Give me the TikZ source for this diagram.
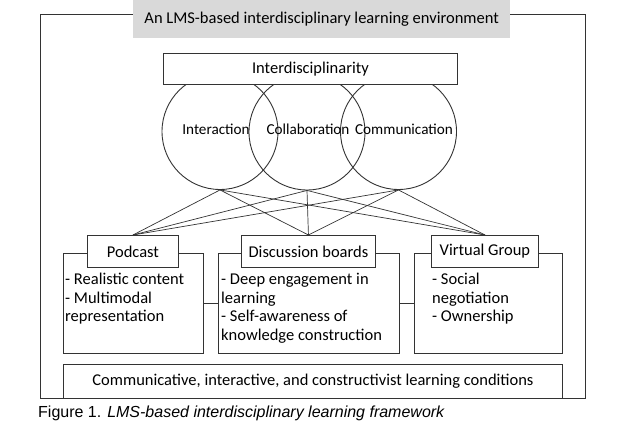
\documentclass[tikz,border=0pt]{standalone}
\usepackage{fontspec}
\setmainfont{Carlito}
\newfontfamily\capfont{Liberation Sans}
\begin{document}
\begin{tikzpicture}[x=1pt,y=-1pt,
  ln/.style={draw=black!80,line width=0.9pt},
  txt/.style={font=\fontsize{16.5}{18.6}\selectfont,inner sep=0pt},
  ctxt/.style={font=\fontsize{15.2}{18}\selectfont,inner sep=0pt},
  rect/.style={ln,fill=white},
  circ/.style={ln,circle,minimum size=116pt,inner sep=0pt},
  body/.style={txt,align=left,anchor=north west}]
\useasboundingbox (0,0) rectangle (617,430);
\fill[white] (0,0) rectangle (617,430);
% outer frame
\draw[ln] (40,14) rectangle (585,398);
\node[fill=black!15,minimum width=377pt,minimum height=38pt,inner sep=0pt,anchor=north west] (title) at (133,0) {};
\node[txt] at (title.center) {An LMS-based interdisciplinary learning environment};
% circles
\node[circ] (c1) at (220,131.5) {};
\node[circ] (c2) at (307,132) {};
\node[circ] (c3) at (398.5,131.5) {};
\node[ctxt] at (216,129) {Interaction};
\node[ctxt] at (308,129) {Collaboration};
\node[ctxt] at (404,129) {Communication};
% top box
\node[rect,minimum width=294pt,minimum height=31pt,anchor=north west] (inter) at (163,53) {};
\node[txt] at (inter.center) {Interdisciplinarity};
% content boxes
\node[ln,minimum width=140pt,minimum height=100pt,anchor=north west] (pb) at (63,253) {};
\node[ln,minimum width=181pt,minimum height=100pt,anchor=north west] (db) at (218,253) {};
\node[ln,minimum width=148pt,minimum height=100pt,anchor=north west] (vb) at (414,253) {};
\draw[ln] (pb.east) -- (db.west);
\draw[ln] (db.east) -- (vb.west);
% header boxes
\node[rect,minimum width=91pt,minimum height=32pt,anchor=north west] (ph) at (87,235) {};
\node[rect,minimum width=134pt,minimum height=32pt,anchor=north west] (dh) at (241,235) {};
\node[rect,minimum width=107pt,minimum height=32pt,anchor=north west] (vh) at (431,235) {};
\node[txt] at (ph.center) {Podcast};
\node[txt] at (dh.center) {Discussion boards};
\node[txt] at (vh.center) {Virtual Group};
% connectors
\foreach \c in {c1,c2,c3}{
  \foreach \h in {ph,dh,vh}{
    \draw[ln,line width=0.7pt] (\c.south) -- (\h.north);
  }
}
% body texts
\node[body] (pt) at (65,273) {- Realistic content\\- Multimodal\\representation};
\node[body] (dt) at (221,273) {- Deep engagement in\\learning\\- Self-awareness of\\knowledge construction};
\node[body] (vt) at (432,273) {- Social\\negotiation\\- Ownership};
% bottom box
\node[ln,minimum width=499pt,minimum height=34pt,anchor=north west] (bot) at (63,364) {};
\node[txt] at (bot.center) {Communicative, interactive, and constructivist learning conditions};
% caption
\node[anchor=west,inner sep=0pt,font=\capfont\fontsize{16}{18}\selectfont] (cap) at (38,413) {Figure 1. \textit{LMS-based interdisciplinary learning framework}};
\end{tikzpicture}
\end{document}
